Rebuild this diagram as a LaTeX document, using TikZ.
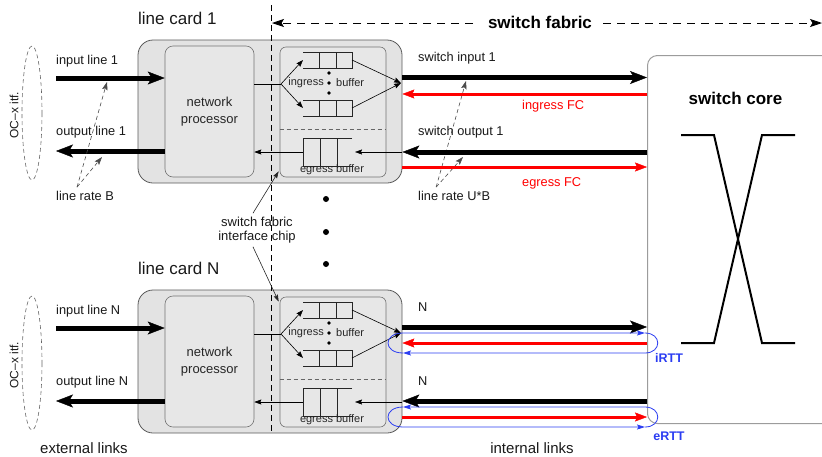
\documentclass[tikz,border=0pt]{standalone}
\usepackage{fontspec}
\setmainfont{Liberation Sans}
\usetikzlibrary{arrows.meta,calc}

\definecolor{cardfill}{HTML}{E3E3E3}
\definecolor{procfill}{HTML}{E7E7E7}
\definecolor{fcred}{HTML}{FF0000}
\definecolor{rttblue}{HTML}{2B3DF2}
\definecolor{corebox}{HTML}{9C9C9C}

\tikzset{
  fs/.style 2 args={font=\fontsize{#1}{#2}\selectfont},
  bfs/.style 2 args={font=\fontsize{#1}{#2}\selectfont\bfseries},
  lbl/.style={fs={12.8}{15}, inner sep=0pt, text=black!90},
  card/.style={draw=black!65, fill=cardfill, rounded corners=15pt, line width=0.8pt},
  proc/.style={draw=black!55, fill=procfill, rounded corners=8pt, line width=0.6pt},
  chipbox/.style={draw=black!55, fill=procfill, rounded corners=6pt, line width=0.6pt},
  corestyle/.style={draw=corebox, fill=white, rounded corners=10pt, line width=1pt},
  queue/.style={line width=0.6pt, draw=black!85},
  sep/.style={draw=black!60, dash pattern=on 4pt off 3pt, line width=0.6pt},
  divider/.style={draw=black, dash pattern=on 6pt off 4pt, line width=0.7pt},
  fabric/.style={draw=black, dash pattern=on 8pt off 6pt, line width=0.8pt,
    -{Stealth[length=12pt,width=8pt,inset=2.5pt]}},
  itf/.style={draw=black!60, dash pattern=on 4pt off 3pt, line width=0.6pt},
  fat/.style={draw=black, line width=5pt,
    -{Stealth[length=17pt,width=13pt,inset=4pt,line width=0.4pt]}},
  redarrow/.style={draw=fcred, line width=3pt,
    -{Stealth[length=12pt,width=9pt,inset=2pt,line width=0.4pt]}},
  bluearrow/.style={draw=rttblue, line width=0.8pt,
    -{Stealth[length=8pt,width=5pt,inset=1.5pt]}},
  thinline/.style={draw=black, line width=0.6pt},
  thinarrow/.style={draw=black, line width=0.6pt,
    -{Stealth[length=7pt,width=5pt,inset=1pt]}},
  ratearrow/.style={draw=black!70, dash pattern=on 4pt off 3pt, line width=0.6pt,
    -{Stealth[length=8pt,width=5.5pt,inset=1.5pt]}},
  pointer/.style={draw=black!85, line width=0.6pt,
    -{Stealth[length=7pt,width=4.5pt,inset=1pt]}},
}

\begin{document}
\begin{tikzpicture}[x=1pt,y=-1pt]
\useasboundingbox (0,0) rectangle (822,456);
\clip (0,0) rectangle (822,456);

% ---------- switch core ----------
\node[corestyle, minimum width=190, minimum height=368, anchor=north west]
  (core) at (647,55) {};
\node[bfs={17}{20}, inner sep=0pt] (coretitle) at (735.5,98) {switch core};
\draw[line width=2pt, line join=miter]
  (681,135) -- (714,135) -- (762,343) -- (795,343)
  (681,343) -- (714,343) -- (762,135) -- (795,135);

% ---------- line cards ----------
\foreach \i/\dy in {1/0,N/250}{
  \begin{scope}[yshift=-\dy pt]
    \node[card, minimum width=264, minimum height=143] (card\i) at (270,111.5) {};
    \node[proc, minimum width=89, minimum height=131, align=center,
          fs={13}{17}, text=black!85] (np\i) at (209.5,111.5) {network\\processor};
    \node[chipbox, minimum width=106, minimum height=130] (chip\i) at (333,112) {};
    \node[lbl, fs={17}{20}, anchor=west] (title\i) at (138,18) {line card \i};

    % separator between ingress and egress part of the chip
    \draw[sep] (chip\i.west |- 0,129) -- (chip\i.east |- 0,129);

    % ingress queues (open at the left) and egress queue (open at the right)
    \draw[queue] (303,52) -- (352,52) -- (352,68) -- (303,68)
                 (319.5,52) -- (319.5,68) (336,52) -- (336,68);
    \draw[queue] (303,100) -- (352,100) -- (352,116) -- (303,116)
                 (319.5,100) -- (319.5,116) (336,100) -- (336,116);
    \draw[queue] (352,138) -- (303,138) -- (303,166) -- (352,166)
                 (320,138) -- (320,166) (337,138) -- (337,166);
    \foreach \yy in {73,83,93}{\fill (329,\yy) circle[radius=1.8];}
    \node[fs={11}{13}, inner sep=0pt, anchor=east, text=black!85] (ingr\i) at (324,83) {ingress};
    \node[fs={11}{13}, inner sep=0pt, anchor=west, text=black!85] (ingb\i) at (336,83) {buffer};
    \node[fs={11}{13}, inner sep=0pt, text=black!85] (egb\i) at (332,170) {egress buffer};

    \coordinate (fork\i) at (281,84);
    \coordinate (qa\i) at (303,60);
    \coordinate (qb\i) at (303,108);
    \coordinate (qar\i) at (352,60);
    \coordinate (qbr\i) at (352,108);
    \coordinate (merge\i) at (401,83);
    \coordinate (qe\i) at (303,152);
    \coordinate (qer\i) at (355,152);

    \draw[thinline] (np\i.east |- fork\i) -- (fork\i);
    \draw[thinarrow] (fork\i) -- (qa\i);
    \draw[thinarrow] (fork\i) -- (qb\i);
    \draw[thinarrow] (qar\i) -- (merge\i);
    \draw[thinarrow] (qbr\i) -- (merge\i);
    \draw[thinarrow] (card\i.east |- qe\i) -- (qer\i);
    \draw[thinarrow] (qe\i) -- (np\i.east |- qe\i);

    % external lines
    \coordinate (inl\i) at (56,78);
    \coordinate (outl\i) at (56,151);
    \draw[fat] (inl\i) -- (np\i.west |- inl\i);
    \draw[fat] (np\i.west |- outl\i) -- (outl\i);
    \node[lbl, anchor=west] (inlab\i) at (56,61) {input line \i};
    \node[lbl, anchor=west] (outlab\i) at (56,132) {output line \i};

    % OC-x interface
    \draw[itf] (32,113) ellipse[x radius=10, y radius=67];
    \node[fs={12}{14}, rotate=90, text=black!90] (oc\i) at (14,115) {OC–x itf.};
  \end{scope}
}

% boundary between line card and switch fabric
\coordinate (divtop) at (271,5);
\coordinate (divbot) at (271,432);
\draw[divider] (divtop) -- (divbot);

% switch fabric extent
\node[bfs={17}{20}, inner sep=0pt] (sf) at (540,22) {switch fabric};
\coordinate (sfa) at (473,23);
\coordinate (sfL) at (272,23);
\coordinate (sfb) at (603,23);
\coordinate (sfR) at (822,23);
\draw[fabric] (sfa) -- (sfL);
\draw[fabric] (sfb) -- (sfR);

% interface chip label
\node[fs={13}{14.5}, align=center, text=black!90] (sfic) at (257,230)
  {switch fabric\\interface chip};
\draw[pointer] ([xshift=-4pt]sfic.north) -- ([xshift=-1pt,yshift=6pt]chip1.south west);
\draw[pointer] ([xshift=-4pt]sfic.south) -- ([xshift=-1pt,yshift=-5pt]chipN.north west);

% vertical ellipsis between the cards
\foreach \yy in {199,232,264}{\fill (326,\yy) circle[radius=3];}

% line rate annotations
\node[lbl, anchor=west] (lrB) at (56,196) {line rate B};
\coordinate (lrBa) at (107,82);
\coordinate (lrBb) at (102,157);
\draw[ratearrow] ([xshift=-8pt,yshift=4pt]lrB.north) -- (lrBa);
\draw[ratearrow] ([xshift=-8pt,yshift=4pt]lrB.north) -- (lrBb);

\node[lbl, anchor=west] (lrU) at (418,196) {line rate U*B};
\coordinate (lrUa) at (466,81);
\coordinate (lrUb) at (463,157);
\draw[ratearrow] ([xshift=-18pt,yshift=4pt]lrU.north) -- (lrUa);
\draw[ratearrow] ([xshift=-18pt,yshift=4pt]lrU.north) -- (lrUb);

% ---------- internal links, card 1 ----------
\draw[fat] (card1.east |- 0,77.5) -- (core.west |- 0,77.5);
\draw[redarrow] (core.west |- 0,94) -- (card1.east |- 0,94);
\draw[fat] (core.west |- 0,152) -- (card1.east |- 0,152);
\draw[redarrow] (card1.east |- 0,167) -- (core.west |- 0,167);

\node[lbl, anchor=west] (si1) at (418,58) {switch input 1};
\node[lbl, anchor=west] (so1) at (418,132) {switch output 1};
\node[lbl, anchor=west, text=fcred] (ifc) at (522,106) {ingress FC};
\node[lbl, anchor=west, text=fcred] (efc) at (522,183) {egress FC};

% ---------- internal links, card N ----------
\draw[fat] (cardN.east |- 0,327) -- (core.west |- 0,327);
\draw[redarrow] (core.west |- 0,343) -- (cardN.east |- 0,343);
\draw[fat] (core.west |- 0,401) -- (cardN.east |- 0,401);
\draw[redarrow] (cardN.east |- 0,417) -- (core.west |- 0,417);

\node[lbl, anchor=west] (nin) at (418,307) {N};
\node[lbl, anchor=west] (nout) at (418,381) {N};

% round trip loops
\coordinate (ia) at (403,333);
\coordinate (ib) at (645,333);
\coordinate (ic) at (645,353);
\coordinate (id) at (403,353);
\draw[bluearrow] (id) .. controls (383,353) and (383,333) .. (ia) -- (ib);
\draw[bluearrow] (ib) .. controls (662,333) and (662,353) .. (ic) -- (id);

\coordinate (ea) at (403,407);
\coordinate (eb) at (645,407);
\coordinate (ec) at (645,427);
\coordinate (ed) at (403,427);
\draw[bluearrow] (ec) .. controls (662,427) and (662,407) .. (eb) -- (ea);
\draw[bluearrow] (ea) .. controls (383,407) and (383,427) .. (ed) -- (ec);

\node[bfs={12.5}{15}, text=rttblue, inner sep=0pt] (irtt) at (669,358) {iRTT};
\node[bfs={12.5}{15}, text=rttblue, inner sep=0pt] (ertt) at (669,436) {eRTT};

% ---------- link groups ----------
\node[fs={15}{18}, inner sep=0pt, text=black!90] (ext) at (84,448) {external links};
\node[fs={15}{18}, inner sep=0pt, text=black!90] (int) at (532,448) {internal links};
\end{tikzpicture}
\end{document}
